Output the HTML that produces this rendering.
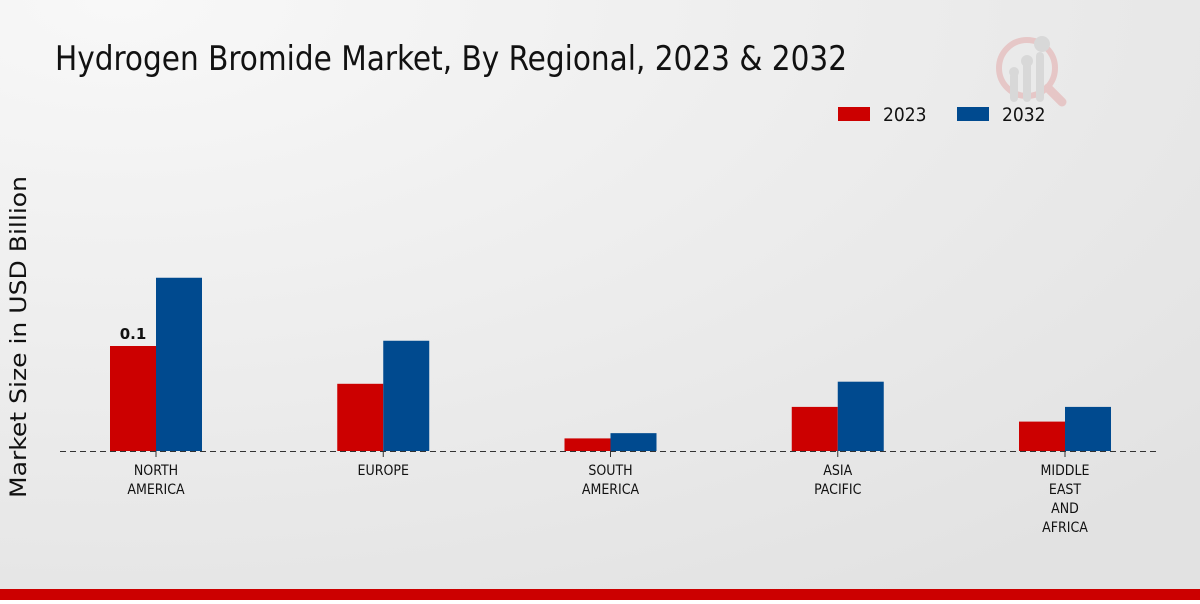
<!DOCTYPE html>
<html><head><meta charset="utf-8"><style>
body{margin:0;width:1200px;height:600px;overflow:hidden;font-family:"DejaVu Sans Condensed","Liberation Sans",sans-serif}
</style></head><body>
<svg width="1200" height="600">
<defs><radialGradient id="bg" cx="0.1" cy="0" r="1.2"><stop offset="0" stop-color="#f8f8f8"/><stop offset="1" stop-color="#e2e2e2"/></radialGradient></defs>
<rect width="1200" height="600" fill="url(#bg)"/>
<text x="55" y="70" font-size="34" font-family="DejaVu Sans Condensed" textLength="792" lengthAdjust="spacingAndGlyphs" fill="#111">Hydrogen Bromide Market, By Regional, 2023 &amp; 2032</text>
<g opacity="0.5">
<circle cx="1027" cy="68" r="28" fill="none" stroke="#e3a5a5" stroke-width="6"/>
<line x1="1048" y1="88" x2="1062" y2="102" stroke="#e3a5a5" stroke-width="9" stroke-linecap="round"/>
<rect x="1010" y="72" width="8" height="30" rx="4" fill="#c8c8c8"/><rect x="1023" y="62" width="8" height="40" rx="4" fill="#c8c8c8"/><rect x="1036" y="52" width="8" height="50" rx="4" fill="#c8c8c8"/>
<circle cx="1014" cy="72" r="5" fill="#c8c8c8"/><circle cx="1027" cy="61" r="6" fill="#c8c8c8"/><circle cx="1042" cy="44" r="8" fill="#c8c8c8"/>
</g>
<g>
<rect x="838" y="107" width="32" height="14" fill="#cc0000"/>
<text x="883" y="121" font-size="19" fill="#111">2023</text>
<rect x="957" y="107" width="32" height="14" fill="#004a8f"/>
<text x="1002" y="121" font-size="19" fill="#111">2032</text>
</g>
<text transform="translate(26,337) rotate(-90)" text-anchor="middle" font-size="22" font-family="DejaVu Sans" textLength="322" lengthAdjust="spacingAndGlyphs" fill="#111">Market Size in USD Billion</text>
<g id="plot"></g>
<line x1="60" y1="451.5" x2="1160" y2="451.5" stroke="#333" stroke-dasharray="6,4"/>
<rect x="0" y="589" width="1200" height="11" fill="#cc0000"/>
</svg>
<script>
const categories=[["NORTH","AMERICA"],["EUROPE"],["SOUTH","AMERICA"],["ASIA","PACIFIC"],["MIDDLE","EAST","AND","AFRICA"]];
const v2023=[0.1,0.064,0.012,0.042,0.028];
const v2032=[0.165,0.105,0.017,0.066,0.042];
const labels2023=["0.1","","","",""];
const NS="http://www.w3.org/2000/svg";
const g=document.getElementById('plot');
const base=451, scale=1050;
const y=v=>base-v*scale;
const cx=i=>156+i*227.25;
function mk(t,a){const e=document.createElementNS(NS,t);for(const k in a)e.setAttribute(k,a[k]);g.appendChild(e);return e;}
categories.forEach((c,i)=>{
 const r1=mk('rect',{x:cx(i)-46,y:y(v2023[i]),width:46,height:base-y(v2023[i]),fill:'#cc0000'});
 
 
 const r2=mk('rect',{x:cx(i),y:y(v2032[i]),width:46,height:base-y(v2032[i]),fill:'#004a8f'});
 
 
 const tk=mk('line',{x1:cx(i),x2:cx(i),y1:451,y2:457,stroke:'#333'});
 
 
 if(labels2023[i]){const t=mk('text',{x:cx(i)-23,y:y(v2023[i])-7,'text-anchor':'middle','font-size':15,'font-weight':'bold','font-family':'DejaVu Sans',fill:'#111'});t.textContent=labels2023[i];
 
 }
 c.forEach((l,j)=>{const t=mk('text',{x:cx(i),y:475+j*19,'text-anchor':'middle','font-size':14,fill:'#111'});t.textContent=l;
 
 });
});
</script>
</body></html>
